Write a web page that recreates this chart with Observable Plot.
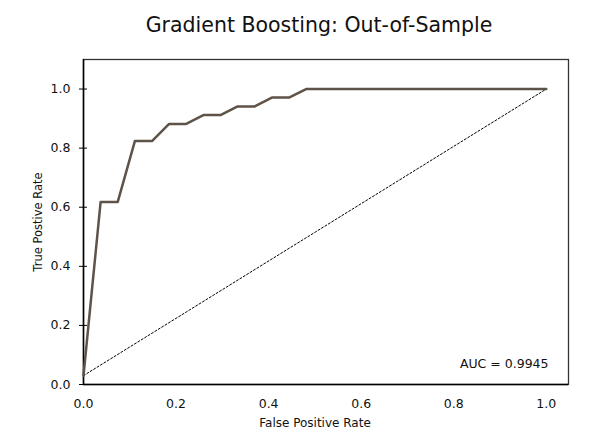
<!DOCTYPE html>
<html>
<head>
<meta charset="utf-8">
<script src="https://cdn.jsdelivr.net/npm/d3@7"></script>
<script src="https://cdn.jsdelivr.net/npm/@observablehq/plot@0.6"></script>
<style>
  html, body { margin: 0; padding: 0; background: #fff; }
  svg { display: block; }
</style>
</head>
<body>
<div id="chart"></div>
<script>
// ROC curve points
const fpr = [0, 0.037, 0.074, 0.111, 0.148, 0.185, 0.222, 0.259, 0.296, 0.333, 0.370, 0.407, 0.444, 0.481, 1.0];
const tpr = [0.03, 0.618, 0.618, 0.824, 0.824, 0.882, 0.882, 0.912, 0.912, 0.941, 0.941, 0.971, 0.971, 1.0, 1.0];
// chance diagonal
const diagX = [0, 1.0];
const diagY = [0.03, 1.0];
const xTicks = [0, 0.2, 0.4, 0.6, 0.8, 1.0];
const yTicks = [0, 0.2, 0.4, 0.6, 0.8, 1.0];
const titleText = "Gradient Boosting: Out-of-Sample";
const xLabel = "False Positive Rate";
const yLabel = "True Postive Rate";
const aucText = "AUC = 0.9945";

const roc = fpr.map((x, i) => ({x, y: tpr[i]}));
const diag = diagX.map((x, i) => ({x, y: diagY[i]}));

const font = "DejaVu Sans, Verdana, sans-serif";

const chart = Plot.plot({
  width: 600,
  height: 433,
  marginTop: 59,
  marginLeft: 83,
  marginRight: 32,
  marginBottom: 49,
  style: {fontFamily: font, background: "#fff", color: "#111"},
  x: {domain: [0, 1.048]},
  y: {domain: [0, 1.1]},
  marks: [
    Plot.frame({stroke: "#333", strokeWidth: 1.3}),
    Plot.ruleX([0], {stroke: "#000", strokeWidth: 1.5}),
    Plot.ruleY([0], {stroke: "#000", strokeWidth: 1.5}),
    Plot.axisX({ticks: xTicks, tickFormat: d3.format(".1f"), tickSize: 0, tickPadding: 15, fontSize: 12.5, label: null, fill: "#111"}),
    Plot.axisY({ticks: yTicks, tickFormat: d3.format(".1f"), tickSize: 8, dx: 4, tickPadding: 9, fontSize: 12.5, label: null, stroke: "#000", fill: "#111"}),
    Plot.line(diag, {x: "x", y: "y", stroke: "#000", strokeWidth: 1, strokeDasharray: "2,2"}),
    Plot.line(roc, {x: "x", y: "y", stroke: "#5e5348", strokeWidth: 2.5}),
    Plot.text([aucText], {frameAnchor: "bottom-right", text: d => d, dx: -20, dy: -21, textAnchor: "end", lineAnchor: "middle", fontSize: 12.5, fill: "#111"}),
    Plot.text([titleText], {frameAnchor: "top", text: d => d, dx: -7, dy: -28, textAnchor: "middle", lineAnchor: "bottom", fontSize: 20.5, fill: "#111"}),
    Plot.text([xLabel], {frameAnchor: "bottom", text: d => d, dx: -11, dy: 39, textAnchor: "middle", lineAnchor: "middle", fontSize: 12, fill: "#111"}),
    Plot.text([yLabel], {frameAnchor: "left", text: d => d, dx: -45, rotate: -90, textAnchor: "middle", lineAnchor: "middle", fontSize: 11.5, fill: "#111"})
  ]
});
document.getElementById("chart").appendChild(chart);
</script>
</body>
</html>
